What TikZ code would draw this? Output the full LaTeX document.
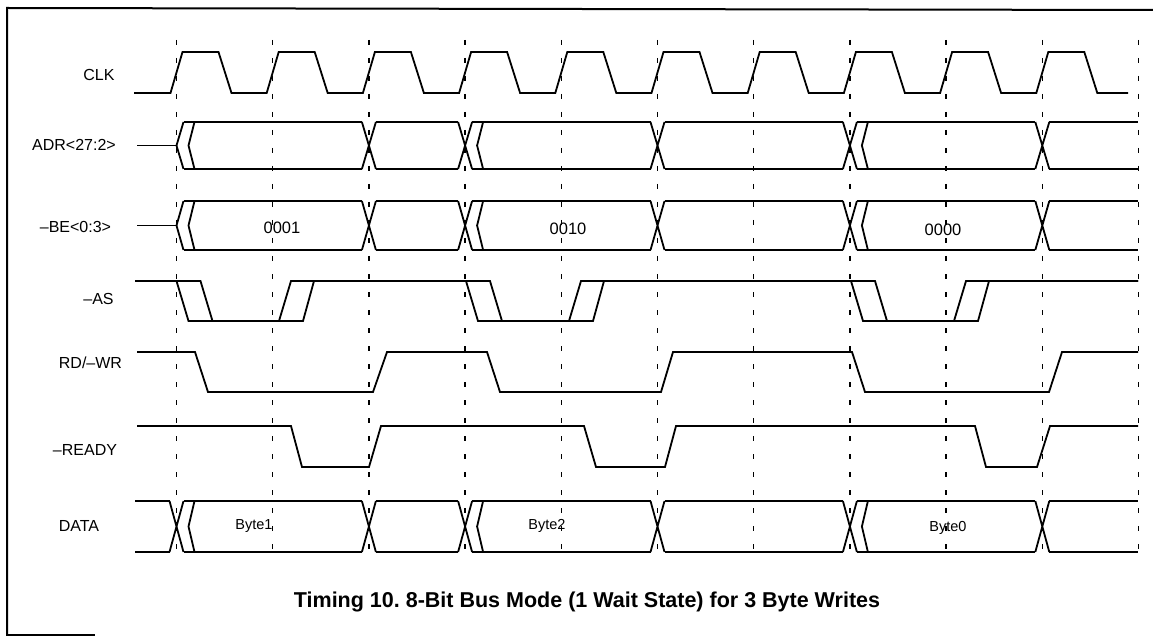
\documentclass[tikz,border=0pt]{standalone}
\usepackage{fontspec}
\setmainfont{Liberation Sans}
\frenchspacing
\newcommand{\busX}[3]{\draw[sig] ({#1-7},#2) -- ({#1+7},#3) ({#1-7},#3) -- ({#1+7},#2);}
\newcommand{\busK}[3]{\draw[sig] ({#1+18},#2) -- ({#1+12},{(#2+#3)/2}) -- ({#1+18},#3);}
\newcommand{\busL}[4]{\draw[sig] (#1,#3) -- (#2,#3) (#1,#4) -- (#2,#4);}
\newcommand{\busbody}[2]{%
  \busK{176.5}{#1}{#2}
  \busL{183.5}{361.9}{#1}{#2}
  \busX{368.9}{#1}{#2}
  \busL{375.9}{458.1}{#1}{#2}
  \busX{465.1}{#1}{#2}
  \busK{465.1}{#1}{#2}
  \busL{472.1}{650.5}{#1}{#2}
  \busX{657.5}{#1}{#2}
  \busL{664.5}{842.9}{#1}{#2}
  \busX{849.9}{#1}{#2}
  \busK{849.9}{#1}{#2}
  \busL{856.9}{1035.3}{#1}{#2}
  \busX{1042.3}{#1}{#2}
  \busL{1049.3}{1138}{#1}{#2}}
\begin{document}
\begin{tikzpicture}[x=1pt,y=-1pt,
  sig/.style={line width=1.8pt, line join=miter},
  gridline/.style={line width=1.4pt, dash pattern=on 5pt off 13pt},
  lbl/.style={font=\fontsize{16}{16}\selectfont, inner sep=0pt},
  val/.style={font=\fontsize{16.5}{16}\selectfont, inner sep=0pt},
  byt/.style={font=\fontsize{14.5}{14}\selectfont, inner sep=0pt},
  captxt/.style={font=\bfseries\fontsize{21.5}{22}\selectfont, inner sep=0pt}]
\useasboundingbox (0,0) rectangle (1153,636);
% frame
\draw[line width=2pt] (1153,10) -- (7,8) -- (7,636);
\draw[line width=2pt] (7,635) -- (95,635);
% clock edge markers
\foreach \k in {0,...,10} \draw[gridline] ({176.5+96.2*\k},40) -- ({176.5+96.2*\k},560);
% labels
\node[lbl] (lclk) at (99,75) {CLK};
\node[lbl] (ladr) at (74,145) {ADR<27:2>};
\node[lbl] (lbe) at (75.5,227) {–BE<0:3>};
\node[lbl] (las) at (98.5,299) {–AS};
\node[lbl] (lrd) at (90.5,363) {RD/–WR};
\node[lbl] (lrdy) at (85,450) {–READY};
\node[lbl] (ldata) at (79,526) {DATA};
% CLK
\draw[sig] (134,93) foreach \k in {0,...,9} {
  -- ({176.5+96.2*\k-6},93) -- ({176.5+96.2*\k+6},52)
  -- ({176.5+96.2*\k+42},52) -- ({176.5+96.2*\k+55},93) } -- (1128,93);
% ADR
\draw[sig] (137,145.5) -- (176.5,145.5);
\draw[sig] (183.5,122) -- (176.5,145.5) -- (183.5,169);
\busbody{122}{169}
% BE
\draw[sig] (137,225.5) -- (176.5,225.5);
\draw[sig] (183.5,201) -- (176.5,225.5) -- (183.5,250);
\busbody{201}{250}
\node[val] (v1) at (282,228) {0001};
\node[val] (v2) at (568,229) {0010};
\node[val] (v3) at (943,230) {0000};
% -AS
\draw[sig] (135,281) -- (176.5,281) -- (188.5,321) -- (279,321) -- (291,281)
  -- (466,281) -- (478,321) -- (569,321) -- (581,281)
  -- (851,281) -- (863,321) -- (954,321) -- (966,281) -- (1138,281);
\draw[sig] (135,281) -- (200.5,281) -- (212.5,321) -- (303,321) -- (314,281)
  -- (490,281) -- (502,321) -- (593,321) -- (604,281)
  -- (875,281) -- (887,321) -- (978,321) -- (989,281) -- (1138,281);
% RD/-WR
\draw[sig] (137,352) -- (195,352) -- (208,392) -- (373,392) -- (387,352)
  -- (487,352) -- (500,392) -- (661,392) -- (673,352)
  -- (852,352) -- (865,392) -- (1049,392) -- (1062,352) -- (1138,352);
% -READY
\draw[sig] (137,426) -- (291,426) -- (302,467) -- (369,467) -- (381,426)
  -- (584,426) -- (596,467) -- (665,467) -- (676,426)
  -- (975,426) -- (986,467) -- (1037,467) -- (1050,426) -- (1138,426);
% DATA
\busL{135}{169.5}{501}{552}
\busX{176.5}{501}{552}
\busbody{501}{552}
\node[byt] (b1) at (254,526) {Byte1};
\node[byt] (b2) at (547,526) {Byte2};
\node[byt] (b0) at (948,528) {Byte0};
% caption
\node[captxt] (cap) at (587,602) {Timing 10. 8-Bit Bus Mode (1 Wait State) for 3 Byte Writes};
\end{tikzpicture}
\end{document}
